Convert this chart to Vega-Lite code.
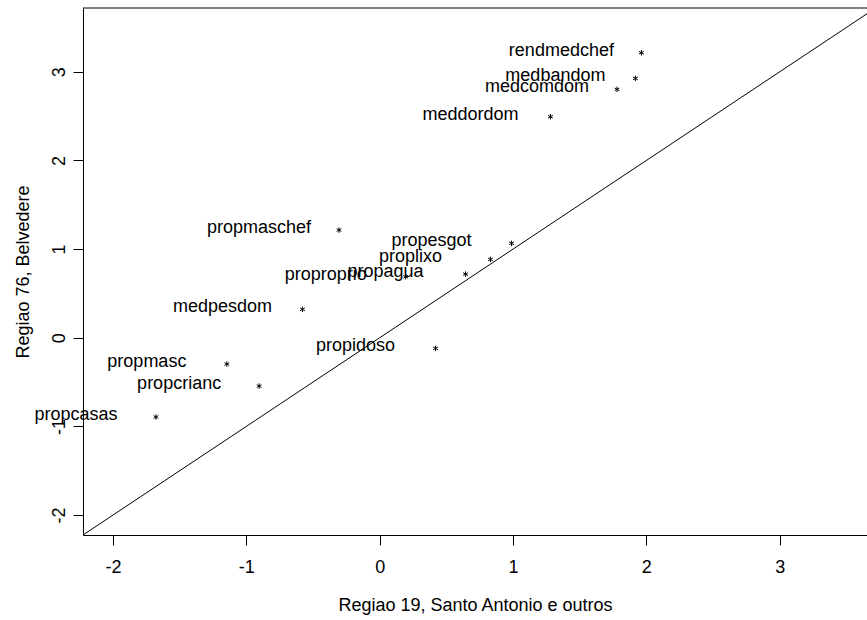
{
  "$schema": "https://vega.github.io/schema/vega-lite/v6.json",
  "width": 784,
  "height": 527,
  "autosize": {"type": "none"},
  "padding": {"left": 83, "top": 8, "right": 0, "bottom": 85},
  "background": "white",
  "config": {
    "view": {"stroke": null},
    "font": "Liberation Sans",
    "axis": {
      "grid": false,
      "domainColor": "black",
      "tickColor": "black",
      "labelColor": "black",
      "titleColor": "black",
      "labelFont": "Liberation Sans",
      "titleFont": "Liberation Sans",
      "labelFontSize": 18,
      "titleFontSize": 18,
      "titleFontWeight": "normal",
      "tickSize": 10,
      "domainWidth": 1,
      "tickWidth": 1
    }
  },
  "datasets": {
    "pts": [
      {"var": "rendmedchef", "r19": 1.963, "r76": 3.215},
      {"var": "medbandom", "r19": 1.918, "r76": 2.926},
      {"var": "medcomdom", "r19": 1.78, "r76": 2.802},
      {"var": "meddordom", "r19": 1.281, "r76": 2.493},
      {"var": "propmaschef", "r19": -0.305, "r76": 1.215},
      {"var": "propesgot", "r19": 0.989, "r76": 1.065},
      {"var": "proplixo", "r19": 0.831, "r76": 0.884},
      {"var": "propagua", "r19": 0.644, "r76": 0.718},
      {"var": "proproprio", "r19": 0.195, "r76": 0.688},
      {"var": "medpesdom", "r19": -0.579, "r76": 0.32},
      {"var": "propidoso", "r19": 0.419, "r76": -0.12},
      {"var": "propmasc", "r19": -1.146, "r76": -0.297},
      {"var": "propcrianc", "r19": -0.904, "r76": -0.545},
      {"var": "propcasas", "r19": -1.678, "r76": -0.894}
    ],
    "diag": [
      {"r19": -2.225, "r76": -2.225},
      {"r19": 3.72, "r76": 3.72}
    ],
    "frame": [
      {"r19": -2.225, "r76": 3.72},
      {"r19": 3.655, "r76": 3.72}
    ]
  },
  "encoding": {
    "x": {
      "field": "r19", "type": "quantitative",
      "scale": {"domain": [-2.225, 3.655], "nice": false, "zero": false},
      "axis": {
        "orient": "bottom",
        "values": [-2, -1, 0, 1, 2, 3],
        "labelExpr": "'' + datum.value",
        "title": "Regiao 19, Santo Antonio e outros",
        "labelPadding": 13,
        "titlePadding": 20
      }
    },
    "y": {
      "field": "r76", "type": "quantitative",
      "scale": {"domain": [-2.225, 3.72], "nice": false, "zero": false},
      "axis": {
        "orient": "left",
        "values": [-2, -1, 0, 1, 2, 3],
        "labelExpr": "'' + datum.value",
        "title": "Regiao 76, Belvedere",
        "labelAngle": -90,
        "labelAlign": "center",
        "labelBaseline": "alphabetic",
        "labelPadding": 9,
        "titlePadding": 18
      }
    }
  },
  "layer": [
    {
      "data": {"name": "diag"},
      "mark": {"type": "line", "color": "black", "strokeWidth": 1, "clip": true}
    },
    {
      "data": {"name": "frame"},
      "mark": {"type": "line", "color": "black", "strokeWidth": 1}
    },
    {
      "data": {"name": "pts"},
      "mark": {
        "type": "point",
        "shape": "M0,-1L0,1M-0.87,-0.5L0.87,0.5M-0.87,0.5L0.87,-0.5",
        "filled": false,
        "stroke": "black",
        "strokeWidth": 1,
        "size": 30,
        "opacity": 1
      }
    },
    {
      "data": {"name": "pts"},
      "mark": {
        "type": "text",
        "font": "Liberation Sans",
        "fontSize": 18,
        "color": "black",
        "align": "center",
        "baseline": "alphabetic",
        "dx": -80,
        "dy": 3
      },
      "encoding": {
        "text": {"field": "var"}
      }
    }
  ]
}
